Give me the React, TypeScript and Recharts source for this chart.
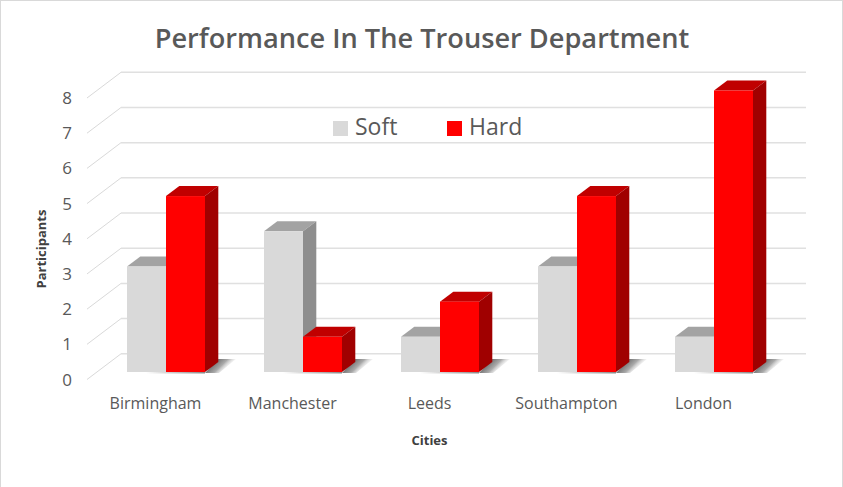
import React from 'react';
import { BarChart, Bar, XAxis, YAxis, CartesianGrid, Legend } from 'recharts';

const cities = ['Birmingham', 'Manchester', 'Leeds', 'Southampton', 'London'];
const softValues = [3, 4, 1, 3, 1];
const hardValues = [5, 1, 2, 5, 8];
const yTicks = [0, 1, 2, 3, 4, 5, 6, 7, 8];

const data = cities.map((city, i) => ({ city, soft: softValues[i], hard: hardValues[i] }));

const FONT = '"Open Sans", sans-serif';

// the fake 3d: back wall sits this far behind the axis plane
const WALL_DX = 34;
const WALL_DY = -25.7;
const WALL_WIDTH = 685;
// bars stand part way back on the floor
const BAR_DX = 10;
const BAR_DY = -7.5;
const DEPTH_DX = 13.3;
const DEPTH_DY = -10;

const GridRow = (props: any) => {
  const { x1, y1 } = props;
  const bx = x1 + WALL_DX;
  const by = y1 + WALL_DY;
  return (
    <g key={props.key}>
      <line x1={x1} y1={y1} x2={bx} y2={by} stroke="#d9d9d9" strokeWidth={1} />
      <line x1={bx} y1={by} x2={bx + WALL_WIDTH} y2={by} stroke="#e0e0e0" strokeWidth={1.5} />
    </g>
  );
};

const Bar3D = (props: any) => {
  const { x, y, width, height, fill, topFill, sideFill, shadow } = props;
  const l = x + BAR_DX;
  const r = l + width;
  const t = y + BAR_DY;
  const b = t + height;
  return (
    <g>
      {shadow && (
        <>
          <polygon
            points={`${r},${b + 1} ${r + DEPTH_DX},${b - 13} ${r + 31},${b - 13} ${r + 14},${b + 1}`}
            fill="url(#floorShadow)"
          />
          <rect x={l - 20} y={b} width={width + 20} height={1.5} fill="url(#underShadow)" />
        </>
      )}
      <polygon
        points={`${l},${t} ${l + DEPTH_DX},${t + DEPTH_DY} ${r + DEPTH_DX},${t + DEPTH_DY} ${r},${t}`}
        fill={topFill}
      />
      <polygon
        points={`${r},${t} ${r + DEPTH_DX},${t + DEPTH_DY} ${r + DEPTH_DX},${b + DEPTH_DY} ${r},${b}`}
        fill={sideFill}
      />
      <rect x={l} y={t} width={width} height={height} fill={fill} />
    </g>
  );
};

const LegendBox = ({ payload }: any) => (
  <div style={{ position: 'relative', height: 30, fontFamily: FONT, fontSize: 23, color: '#595959' }}>
    {(payload || []).map((item: any, i: number) => (
      <div key={item.value} style={{ position: 'absolute', left: i * 114, top: 0, whiteSpace: 'nowrap', lineHeight: '30px' }}>
        <span style={{ display: 'inline-block', width: 15, height: 15, background: item.color, marginRight: 7, verticalAlign: -1 }} />
        {item.value}
      </div>
    ))}
  </div>
);

export default function App() {
  return (
    <div style={{ position: 'absolute', left: 0, top: 0, width: 843, height: 487, background: '#fff' }}>
      <BarChart
        width={843}
        height={487}
        data={data}
        barSize={39}
        barGap={0}
        margin={{ top: 98, right: 71, bottom: 47.5, left: 27 }}
      >
        <defs>
          <linearGradient id="floorShadow" x1="0.35" y1="0" x2="1" y2="0.3">
            <stop offset="0%" stopColor="#666666" />
            <stop offset="50%" stopColor="#aaaaaa" />
            <stop offset="100%" stopColor="#ffffff" stopOpacity={0} />
          </linearGradient>
          <linearGradient id="underShadow" x1="0" y1="0" x2="1" y2="0">
            <stop offset="0%" stopColor="#888888" stopOpacity={0} />
            <stop offset="100%" stopColor="#888888" />
          </linearGradient>
        </defs>
        <text x={422} y={48} textAnchor="middle" fontFamily={FONT} fontWeight={600} fontSize={27.2} fill="#595959">
          Performance In The Trouser Department
        </text>
        <text
          x={43}
          y={249}
          transform="rotate(-90 43 249)"
          textAnchor="middle"
          dominantBaseline="middle"
          fontFamily={FONT}
          fontWeight={700}
          fontSize={13}
          fill="#404040"
        >
          Participants
        </text>
        <CartesianGrid vertical={false} horizontal={(p: any) => <GridRow {...p} />} />
        <XAxis
          dataKey="city"
          axisLine={false}
          tickLine={false}
          tickSize={0}
          tickMargin={18}
          height={60}
          interval={0}
          tick={{ fill: '#595959', fontSize: 16, fontFamily: FONT }}
          label={{ value: 'Cities', position: 'insideBottom', offset: -5, fill: '#404040', fontSize: 13, fontWeight: 700, fontFamily: FONT }}
        />
        <YAxis
          domain={[0, 8]}
          ticks={yTicks}
          axisLine={false}
          tickLine={false}
          tickSize={0}
          tickMargin={15}
          width={60}
          tick={{ fill: '#595959', fontSize: 17, fontFamily: FONT }}
        />
        <Legend
          content={<LegendBox />}
          itemSorter={null}
          layout="horizontal"
          align="center"
          verticalAlign="middle"
          wrapperStyle={{ position: 'absolute', left: 333, top: 111, width: 220 }}
        />
        <Bar
          dataKey="soft"
          name="Soft"
          fill="#d9d9d9"
          isAnimationActive={false}
          shape={(p: any) => <Bar3D {...p} topFill="#a3a3a3" sideFill="#8e8e8e" />}
        />
        <Bar
          dataKey="hard"
          name="Hard"
          fill="#ff0000"
          isAnimationActive={false}
          shape={(p: any) => <Bar3D {...p} topFill="#c00000" sideFill="#a00000" shadow />}
        />
      </BarChart>
      <div style={{ position: 'absolute', left: 0, top: 0, width: 841, height: 486, borderLeft: '1px solid #d9d9d9', borderRight: '1px solid #d9d9d9', borderTop: '1px solid #d9d9d9', pointerEvents: 'none' }} />
    </div>
  );
}
